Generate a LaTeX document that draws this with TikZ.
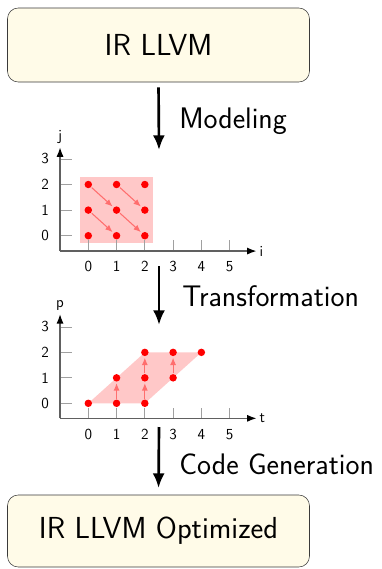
\documentclass[tikz,border=0pt]{standalone}
\usepackage{tikz}
\usetikzlibrary{arrows.meta, positioning, calc}

\definecolor{boxfill}{HTML}{FFFBE8}
\definecolor{boxline}{HTML}{3A3A3A}
\definecolor{domfill}{HTML}{FFC8C8}
\definecolor{depred}{HTML}{FF6E6E}
\definecolor{axisgray}{HTML}{606060}
\definecolor{tickgray}{HTML}{A0A0A0}

\begin{document}
\begin{tikzpicture}[x=0.75pt, y=-0.75pt, font=\sffamily,
    stage/.style={draw=boxline, fill=boxfill, rounded corners=8pt, minimum width=226.5pt, minimum height=55.5pt, font=\sffamily\fontsize{22.8}{25}\selectfont},
    flow/.style={line width=2pt, -{Latex[length=11pt, width=9pt]}},
    steplabel/.style={anchor=base west, inner sep=0pt, font=\sffamily\fontsize{22.3}{25}\selectfont},
    axisline/.style={axisgray, line width=0.9pt, -{Latex[length=6pt, width=5pt]}, arrows={-{Latex[black]}}},
    tickmark/.style={tickgray, line width=0.6pt},
    ticklabel/.style={font=\sffamily\fontsize{11.5}{13}\selectfont, inner sep=0pt},
    dot/.style={circle, fill=red, inner sep=0pt, minimum size=5.6pt},
    dep/.style={depred, line width=0.8pt, -{Latex[length=5.5pt, width=4.5pt]}, shorten <=0.5pt, shorten >=1pt}]
    \useasboundingbox (0,0) rectangle (382,569);

    \node[stage] (ir) at (158.5,45) {IR LLVM};
    \node[stage, minimum height=54pt] (opt) at (158.5,531) {IR LLVM Optimized};

    % arrows between the stages
    \coordinate (m1) at (159,150);
    \coordinate (t0) at (159,266);
    \coordinate (t1) at (159,325);
    \coordinate (g0) at (159,427);
    \draw[flow, shorten <=3.75pt] (ir.south) -- (m1);
    \draw[flow] (t0) -- (t1);
    \draw[flow, shorten >=5pt] (g0) -- (opt.north);
    \node[steplabel] (lmod) at (179,128) {Modeling};
    \node[steplabel] (ltra) at (182,306) {Transformation};
    \node[steplabel] (lgen) at (179,474) {Code Generation};

    % original iteration domain
    \begin{scope}[shift={(88.3,235.7)}, x=21.2pt, y=19.2pt]
        \fill[domfill] (-0.3,-0.3) rectangle (2.28,2.3);
        \foreach \i in {0,...,5} {
            \draw[tickmark] (\i,-0.6) -- (\i,-0.17);
            \node[ticklabel] at (\i,-1.2) {\i};
        }
        \foreach \j in {0,...,3} {
            \draw[tickmark] (-1,\j) -- (-0.59,\j);
            \node[ticklabel] at (-1.53,\j) {\j};
        }
        \draw[axisline] (-1,-0.6) -- (5.95,-0.6);
        \draw[axisline] (-1,-0.6) -- (-1,3.45);
        \node[ticklabel, anchor=west] (xi) at (6.05,-0.6) {i};
        \node[ticklabel, anchor=south] (yj) at (-1,3.6) {j};
        \foreach \i in {0,1,2}
            \foreach \j in {0,1,2}
                \node[dot] (a\i\j) at (\i,\j) {};
        \foreach \i/\k in {0/1,1/2}
            \foreach \j/\l in {0/1,1/2}
                \draw[dep] (a\i\l) -- (a\k\j);
    \end{scope}

    % skewed domain
    \begin{scope}[shift={(88.3,403.3)}, x=21.2pt, y=19.1pt]
        \fill[domfill] (0,0) -- (2,0) -- (4,2) -- (2,2) -- cycle;
        \foreach \t in {0,...,5} {
            \draw[tickmark] (\t,-0.59) -- (\t,-0.2);
            \node[ticklabel] at (\t,-1.22) {\t};
        }
        \foreach \p in {0,...,3} {
            \draw[tickmark] (-1,\p) -- (-0.59,\p);
            \node[ticklabel] at (-1.53,\p) {\p};
        }
        \draw[axisline] (-1,-0.59) -- (5.95,-0.59);
        \draw[axisline] (-1,-0.59) -- (-1,3.5);
        \node[ticklabel, anchor=west] (xt) at (6.05,-0.59) {t};
        \node[ticklabel, anchor=south] (yp) at (-1,3.65) {p};
        \foreach \t/\p in {0/0,1/0,2/0,1/1,2/1,3/1,2/2,3/2,4/2}
            \node[dot] (b\t\p) at (\t,\p) {};
        \foreach \t/\p/\q in {1/0/1,2/0/1,2/1/2,3/1/2}
            \draw[dep] (b\t\p) -- (b\t\q);
    \end{scope}
\end{tikzpicture}
\end{document}
